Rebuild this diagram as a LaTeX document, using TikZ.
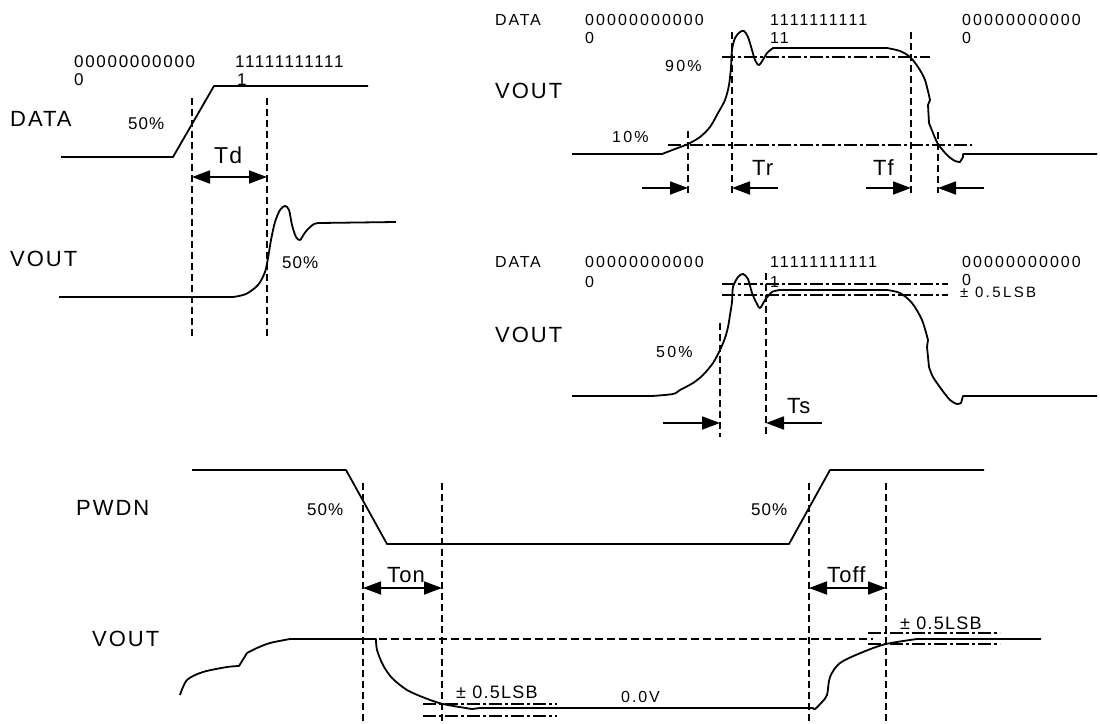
\documentclass[tikz,border=0pt]{standalone}
\usepackage{fontspec}
\setmainfont{Liberation Sans}
\usetikzlibrary{arrows.meta}
\begin{document}
\begin{tikzpicture}[x=1pt,y=-1pt,
  wave/.style={line width=1.8pt, line join=round},
  vdash/.style={line width=1.3pt, dash pattern=on 7pt off 4pt},
  hdash/.style={line width=1.3pt, dash pattern=on 8pt off 4pt},
  ddot/.style={line width=1.3pt, dash pattern=on 13pt off 3pt on 3pt off 3pt},
  arr/.style={line width=1.8pt, -{Triangle[length=18pt,width=13pt]}},
  dim/.style={line width=1.8pt, {Triangle[length=18pt,width=13pt]}-{Triangle[length=18pt,width=13pt]}},
  txt/.style={inner sep=0pt, anchor=base west},
  big/.style={txt, font=\fontsize{22}{22}\selectfont\addfontfeature{LetterSpace=9}},
  tname/.style={txt, font=\fontsize{22}{22}\selectfont\addfontfeature{LetterSpace=5}},
  digA/.style={txt, font=\fontsize{17}{17}\selectfont\addfontfeature{LetterSpace=10}},
  pctA/.style={txt, font=\fontsize{17}{17}\selectfont\addfontfeature{LetterSpace=6}},
  digB/.style={txt, font=\fontsize{16}{16}\selectfont\addfontfeature{LetterSpace=13}},
  dataB/.style={txt, font=\fontsize{16}{16}\selectfont\addfontfeature{LetterSpace=11}},
  pctB/.style={txt, font=\fontsize{16}{16}\selectfont\addfontfeature{LetterSpace=14}},
  lsbB/.style={txt, font=\fontsize{15}{15}\selectfont\addfontfeature{LetterSpace=16}},
  lsbC/.style={txt, font=\fontsize{18}{18}\selectfont\addfontfeature{LetterSpace=7}},
  volt/.style={txt, font=\fontsize{16}{16}\selectfont\addfontfeature{LetterSpace=12}},
]
\useasboundingbox (0,0) rectangle (1100,723);

% ================= top-left: Td =================
\node[big] (tlData) at (10,126) {DATA};
\node[digA] (tlZ) at (74,67) {00000000000};
\node[digA] (tlZb) at (74,85) {0};
\node[digA] (tlO) at (235,67) {11111111111};
\node[digA] (tlOb) at (237,85) {1};
\node[pctA] (tlP1) at (128,129) {50\%};
\draw[wave] (61,157) -- (173,157) -- (214,86) -- (368,86);
\draw[vdash] (192,98) -- (192,338);
\draw[vdash] (267,98) -- (267,338);
\node[txt, font=\fontsize{23}{23}\selectfont\addfontfeature{LetterSpace=5}] (td) at (214,163) {Td};
\coordinate (tdA) at (192,177); \coordinate (tdB) at (267,177);
\draw[dim] (tdA) -- (tdB);
\node[big] (tlVout) at (10,266) {VOUT};
\draw[wave] (59,297) -- plot[smooth,tension=0.5] coordinates {(233,297) (246,294) (258,285) (265,272) (268,258) (271,240) (275,222) (280,210) (285,206) (289,210) (292,225) (296,237) (300,240) (304,234) (308,229) (314,224) (319,223)} -- (396,222);
\node[pctA] (tlP2) at (282,268) {50\%};

% ================= top-right: Tr / Tf =================
\node[dataB] (trData) at (495,25) {DATA};
\node[digB] (trZ) at (585,25) {00000000000};
\node[digB] (trZb) at (585,43) {0};
\node[digB] (trO) at (770,25) {1111111111};
\node[digB] (trOb) at (770,43) {11};
\node[digB] (trZ2) at (962,25) {00000000000};
\node[digB] (trZ2b) at (962,43) {0};
\node[big] (trVout) at (495,98) {VOUT};
\node[pctB] (p90) at (665,71) {90\%};
\node[pctB] (p10) at (612,142) {10\%};
\draw[ddot] (722,57) -- (930,57);
\draw[ddot] (668,145) -- (972,145);
\draw[wave] (572,154) -- plot[smooth,tension=0.5] coordinates {(662,154) (675,149) (688,144) (700,137) (710,127) (718,113) (725,100) (729,85) (731,67) (732,50) (735,38) (740,32) (744,31) (748,37) (752,50) (755,60) (759,65) (764,58) (767,53) (773,48)} -- plot[smooth,tension=0.5] coordinates {(887,48) (900,51) (910,57) (918,67) (925,80) (930,100)} -- (928,105) -- plot[smooth,tension=0.5] coordinates {(929,123) (933,133) (938,144) (947,155) (955,161) (960,162)} -- (963,157) -- (963,154) -- (1097,154);
\draw[vdash] (688,131) -- (688,193);
\draw[vdash] (732,32) -- (732,193);
\draw[vdash] (911,32) -- (911,193);
\draw[vdash] (938,132) -- (938,193);
\coordinate (r1) at (642,188); \coordinate (r1e) at (688,188);
\coordinate (r2) at (778,188); \coordinate (r2e) at (732,188);
\coordinate (f1) at (866,188); \coordinate (f1e) at (911,188);
\coordinate (f2) at (984,188); \coordinate (f2e) at (938,188);
\draw[arr] (r1) -- (r1e);
\draw[arr] (r2) -- (r2e);
\draw[arr] (f1) -- (f1e);
\draw[arr] (f2) -- (f2e);
\node[tname] (tr) at (752,175) {Tr};
\node[tname] (tf) at (873,175) {Tf};

% ================= middle-right: Ts =================
\node[dataB] (msData) at (495,267) {DATA};
\node[digB] (msZ) at (585,267) {00000000000};
\node[digB] (msZb) at (585,287) {0};
\node[digB] (msO) at (770,267) {11111111111};
\node[digB] (msOb) at (770,287) {1};
\node[digB] (msZ2) at (962,267) {00000000000};
\node[digB] (msZ2b) at (962,285) {0};
\node[lsbB] (msLsb) at (960,297) {± 0.5LSB};
\node[big] (msVout) at (495,342) {VOUT};
\node[pctB] (ms50) at (656,357) {50\%};
\draw[ddot] (722,284) -- (948,284);
\draw[ddot] (722,295) -- (948,295);
\draw[wave] (572,396) -- plot[smooth,tension=0.5] coordinates {(652,396) (673,394) (680,390) (693,383) (703,375) (713,363) (720,350) (725,338) (728,327) (730,315) (732,302) (733,287) (738,277) (743,274) (748,279) (752,293) (756,302) (760,308) (765,300) (772,292) (780,290)} -- plot[smooth,tension=0.5] coordinates {(887,290) (900,293) (912,303) (922,320) (928,340)} -- (927,347) -- plot[smooth,tension=0.5] coordinates {(929,367) (933,377) (942,390) (950,400) (957,404) (961,403)} -- (963,396) -- (1097,396);
\draw[vdash] (720,323) -- (720,437);
\draw[vdash] (766,273) -- (766,437);
\coordinate (s1) at (663,423); \coordinate (s1e) at (720,423);
\coordinate (s2) at (822,423); \coordinate (s2e) at (766,423);
\draw[arr] (s1) -- (s1e);
\draw[arr] (s2) -- (s2e);
\node[tname] (ts) at (787,413) {Ts};

% ================= bottom: Ton / Toff =================
\node[big] (pwdn) at (76,515) {PWDN};
\node[big] (bVout) at (92,646) {VOUT};
\draw[wave] (192,470) -- (346,470) -- (387,544) -- (789,544) -- (830,470) -- (984,470);
\node[pctA] (b50a) at (307,515) {50\%};
\node[pctA] (b50b) at (751,515) {50\%};
\draw[vdash] (363,483) -- (363,723);
\draw[vdash] (442,483) -- (442,723);
\draw[vdash] (809,483) -- (809,723);
\draw[vdash] (886,483) -- (886,723);
\coordinate (on1) at (363,588); \coordinate (on2) at (442,588);
\coordinate (off1) at (809,588); \coordinate (off2) at (886,588);
\draw[dim] (on1) -- (on2);
\draw[dim] (off1) -- (off2);
\node[tname] (ton) at (387,582) {Ton};
\node[tname] (toff) at (827,582) {Toff};
\draw[hdash] (343,639) -- (873,639);
\draw[wave] plot[smooth,tension=0.5] coordinates {(180,695) (187,680) (203,672) (227,667) (239,666)} -- plot[smooth,tension=0.5] coordinates {(247,653) (257,648) (270,643) (290,639)} -- plot[smooth,tension=0.5] coordinates {(376,639) (377,650) (383,665) (392,678) (407,690) (425,698) (443,704) (472,709)} -- (480,708) -- plot[smooth,tension=0.5] coordinates {(813,708) (815,709) (822,702) (827,695) (830,677) (840,663) (863,652) (886,644) (917,639)} -- (1041,639);
\draw[ddot] (423,704) -- (557,704);
\draw[ddot] (423,716) -- (557,716);
\draw[ddot] (868,633) -- (1000,633);
\draw[ddot] (868,644) -- (1000,644);
\node[lsbC] (lsbL) at (456,698) {± 0.5LSB};
\node[lsbC] (lsbR) at (900,629) {± 0.5LSB};
\node[volt] (zv) at (621,702) {0.0V};
\end{tikzpicture}
\end{document}
